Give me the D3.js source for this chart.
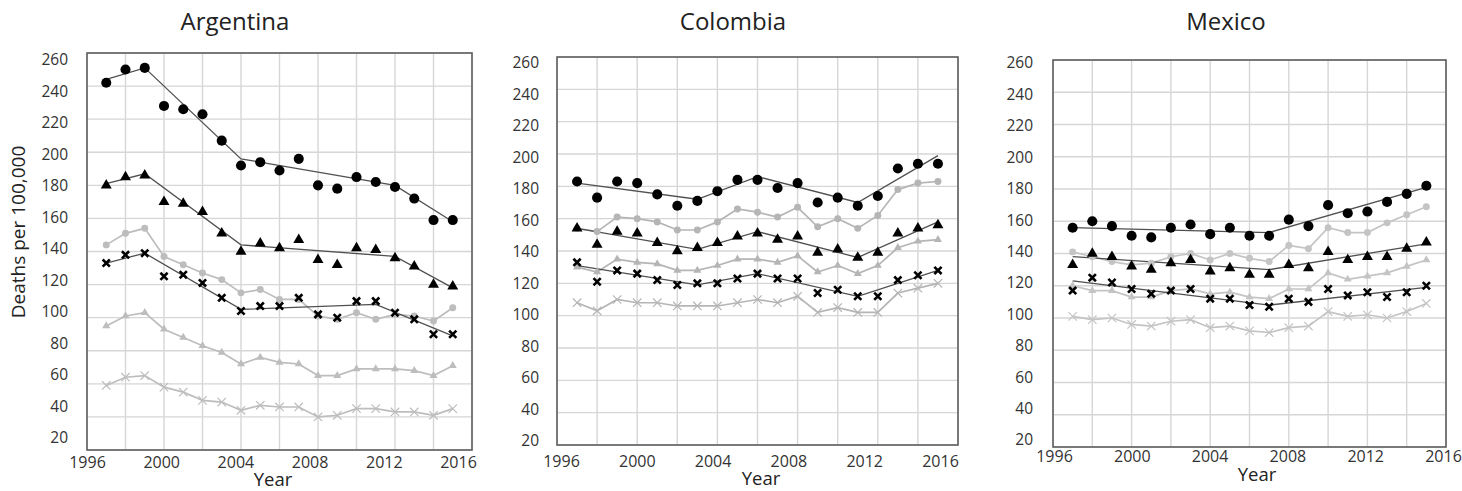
<!DOCTYPE html>
<html>
<head>
<meta charset="utf-8">
<script src="https://cdn.jsdelivr.net/npm/d3@7"></script>
<style>
  body { margin: 0; background: #fff; }
  text { font-family: "Open Sans", sans-serif; }
</style>
</head>
<body>
<svg width="1462" height="491"></svg>
<script>
// years shared by all three panels
const years = [1997, 1998, 1999, 2000, 2001, 2002, 2003, 2004, 2005, 2006,
  2007, 2008, 2009, 2010, 2011, 2012, 2013, 2014, 2015];

const yTicks = [20, 40, 60, 80, 100, 120, 140, 160, 180, 200, 220, 240, 260];
const xTicks = [1996, 2000, 2004, 2008, 2012, 2016];
const xGrid = [1996, 1998, 2000, 2002, 2004, 2006, 2008, 2010, 2012, 2014, 2016];

// Argentina
const argBlackCircle = [242, 250, 251, 228, 226, 223, 207, 192, 194, 189, 196, 180, 178, 185, 182, 179, 172, 159, 159];
const argGrayCircle = [144, 151, 154, 137, 132, 127, 123, 115, 117, 111, 111, 101, 99, 103, 99, 102, 101, 98, 106];
const argBlackTri = [180, 185, 186, 170, 169, 164, 151, 140, 145, 142, 147, 135, 132, 142, 141, 136, 131, 120, 119];
const argGrayTri = [95, 101, 103, 93, 88, 83, 79, 72, 76, 73, 72, 65, 65, 69, 69, 69, 68, 65, 71];
const argBlackX = [133, 138, 139, 125, 126, 121, 112, 104, 107, 107, 112, 102, 100, 110, 110, 103, 99, 90, 90];
const argGrayX = [59, 64, 65, 58, 55, 50, 49, 44, 47, 46, 46, 40, 41, 45, 45, 43, 43, 41, 45];
const argTrendCircleYears = [1997, 1999, 2004, 2012, 2015];
const argTrendCircle = [244, 251, 196, 180, 158];
const argTrendTriYears = [1997, 1999, 2004, 2012, 2015];
const argTrendTri = [181, 187, 144, 137, 118];
const argTrendXYears = [1997, 1999, 2004, 2011, 2015];
const argTrendX = [133, 139, 105, 108, 89];

// Colombia
const colBlackCircle = [183, 173, 183, 182, 175, 168, 171, 177, 184, 184, 179, 182, 170, 173, 168, 174, 191, 194, 194];
const colGrayCircle = [154, 152, 161, 160, 158, 153, 153, 158, 166, 164, 161, 167, 155, 160, 154, 162, 178, 182, 183];
const colBlackTri = [154, 144, 152, 151, 145, 140, 142, 145, 149, 151, 147, 149, 139, 141, 136, 139, 151, 154, 156];
const colGrayTri = [130, 127, 135, 133, 132, 128, 128, 131, 135, 135, 133, 137, 127, 131, 126, 131, 142, 146, 147];
const colBlackX = [133, 121, 128, 126, 122, 119, 120, 120, 123, 126, 123, 123, 114, 116, 112, 112, 122, 125, 128];
const colGrayX = [108, 103, 110, 108, 108, 106, 106, 106, 108, 110, 108, 112, 102, 105, 102, 102, 114, 117, 120];
const colTrendYears = [1997, 2003, 2006, 2011, 2015];
const colTrendCircle = [182, 172, 186, 170, 199];
const colTrendTri = [154, 141, 152, 136, 158];
const colTrendX = [131, 119, 126, 112, 128];

// Mexico
const mexBlackCircle = [156, 160, 157, 151, 150, 156, 158, 152, 156, 151, 151, 161, 157, 170, 165, 166, 172, 177, 182];
const mexGrayCircle = [141, 138, 135, 133, 134, 138, 140, 136, 140, 137, 135, 145, 143, 156, 153, 153, 159, 164, 169];
const mexBlackTri = [133, 140, 138, 132, 130, 134, 136, 129, 131, 127, 127, 133, 131, 141, 136, 138, 138, 143, 147];
const mexGrayTri = [120, 117, 117, 113, 113, 117, 118, 115, 116, 113, 112, 118, 118, 128, 124, 126, 128, 132, 136];
const mexBlackX = [117, 125, 122, 118, 115, 117, 118, 112, 112, 108, 107, 112, 110, 118, 114, 116, 113, 116, 120];
const mexGrayX = [101, 99, 100, 96, 95, 98, 99, 94, 95, 92, 91, 94, 95, 104, 101, 102, 100, 104, 109];
const mexTrendYears = [1997, 2007, 2015];
const mexTrendCircle = [156, 153, 181];
const mexTrendTri = [138, 130, 146];
const mexTrendX = [123, 108, 119];

const countries = [
  { name: "Argentina",
    series: [argGrayX, argGrayTri, argGrayCircle, argBlackX, argBlackTri, argBlackCircle],
    trends: [[argTrendCircleYears, argTrendCircle], [argTrendTriYears, argTrendTri], [argTrendXYears, argTrendX]],
    frame: { l: 87, r: 472, t: 53, b: 450 },
    yLab: { x: 68, b: 438, t: 60 },
    xLab: { l: 87, r: 458, y: 473 },
    titleX: 235, yearX: 273, yearY: 486, gray: "#bdbdbd" },
  { name: "Colombia",
    series: [colGrayX, colGrayTri, colGrayCircle, colBlackX, colBlackTri, colBlackCircle],
    trends: [[colTrendYears, colTrendCircle], [colTrendYears, colTrendTri], [colTrendYears, colTrendX]],
    frame: { l: 557, r: 958, t: 57, b: 445 },
    yLab: { x: 539, b: 441, t: 63 },
    xLab: { l: 561, r: 940, y: 472 },
    titleX: 733, yearX: 761, yearY: 485, gray: "#b5b5b5" },
  { name: "Mexico",
    series: [mexGrayX, mexGrayTri, mexGrayCircle, mexBlackX, mexBlackTri, mexBlackCircle],
    trends: [[mexTrendYears, mexTrendCircle], [mexTrendYears, mexTrendTri], [mexTrendYears, mexTrendX]],
    frame: { l: 1053, r: 1446, t: 60, b: 447 },
    yLab: { x: 1033, b: 440, t: 63 },
    xLab: { l: 1054, r: 1443, y: 467 },
    titleX: 1226, yearX: 1257, yearY: 481, gray: "#c4c4c4" }
];

// marker style for each series, in the same order as "series"
const markers = ["grayX", "grayTri", "grayCircle", "blackX", "blackTri", "blackCircle"];

const svg = d3.select("svg");

const xPath = s => `M${-s},${-s}L${s},${s}M${-s},${s}L${s},${-s}`;

function drawMarker(g, type, color) {
  if (type === "blackCircle") {
    g.append("path").attr("d", d3.symbol(d3.symbolCircle, 80)()).attr("fill", "#000");
  } else if (type === "grayCircle") {
    g.append("path").attr("d", d3.symbol(d3.symbolCircle, 38)()).attr("fill", color);
  } else if (type === "blackTri") {
    g.append("path").attr("d", d3.symbol(d3.symbolTriangle, 52)()).attr("fill", "#000");
  } else if (type === "grayTri") {
    g.append("path").attr("d", d3.symbol(d3.symbolTriangle, 28)()).attr("fill", color);
  } else if (type === "blackX") {
    g.append("path").attr("d", xPath(3.6)).attr("stroke", "#000").attr("stroke-width", 2.6).attr("fill", "none");
  } else {
    g.append("path").attr("d", xPath(4.2)).attr("stroke", color).attr("stroke-width", 1.2).attr("fill", "none");
  }
}

countries.forEach(c => {
  const f = c.frame;
  const x = d3.scaleLinear().domain([1996, 2016]).range([f.l, f.r]);
  const y = d3.scaleLinear().domain([20, 260]).range([f.b, f.t]);
  // the printed tick labels sit a little off the grid in the original
  const xl = d3.scaleLinear().domain([1996, 2016]).range([c.xLab.l, c.xLab.r]);
  const yl = d3.scaleLinear().domain([20, 260]).range([c.yLab.b, c.yLab.t]);

  const g = svg.append("g");

  // grid
  g.selectAll(".hg").data(yTicks).enter().append("line")
    .attr("x1", f.l).attr("x2", f.r)
    .attr("y1", d => y(d)).attr("y2", d => y(d))
    .attr("stroke", "#d6d6d6").attr("stroke-width", 1.4);
  g.selectAll(".vg").data(xGrid).enter().append("line")
    .attr("y1", f.t).attr("y2", f.b)
    .attr("x1", d => x(d)).attr("x2", d => x(d))
    .attr("stroke", "#d6d6d6").attr("stroke-width", 1.4);

  g.append("rect")
    .attr("x", f.l).attr("y", f.t)
    .attr("width", f.r - f.l).attr("height", f.b - f.t)
    .attr("fill", "none").attr("stroke", "#5f5f5f").attr("stroke-width", 1.6);

  // y axis labels
  const yAxis = d3.axisLeft(yl).tickValues(yTicks).tickSize(0).tickPadding(0);
  const ya = g.append("g").attr("transform", `translate(${c.yLab.x},0)`).call(yAxis);
  ya.select(".domain").remove();
  ya.selectAll("text").attr("font-size", 15.5).attr("fill", "#333")
    .style("font-family", '"Open Sans", sans-serif');

  // x axis labels
  const xAxis = d3.axisBottom(xl).tickValues(xTicks).tickFormat(d3.format("d")).tickSize(0).tickPadding(0);
  const xa = g.append("g").attr("transform", `translate(0,${c.xLab.y - 16})`).call(xAxis);
  xa.select(".domain").remove();
  xa.selectAll("text").attr("font-size", 16).attr("fill", "#333")
    .style("font-family", '"Open Sans", sans-serif');

  // gray connected lines
  const line = d3.line().x((d, i) => x(years[i])).y(d => y(d));
  [0, 1, 2].forEach(k => {
    g.append("path").datum(c.series[k]).attr("d", line)
      .attr("fill", "none").attr("stroke", c.gray).attr("stroke-width", 1.7);
  });

  // joinpoint trend lines
  c.trends.forEach(([ty, tv]) => {
    const tl = d3.line().x((d, i) => x(ty[i])).y(d => y(d));
    g.append("path").datum(tv).attr("d", tl)
      .attr("fill", "none").attr("stroke", "#505050").attr("stroke-width", 1.3);
  });

  // markers
  c.series.forEach((s, k) => {
    s.forEach((v, i) => {
      const m = g.append("g").attr("transform", `translate(${x(years[i])},${y(v)})`);
      drawMarker(m, markers[k], c.gray);
    });
  });

  // titles
  g.append("text").attr("x", c.titleX).attr("y", 30)
    .attr("text-anchor", "middle").attr("font-size", 24).attr("fill", "#222")
    .text(c.name);
  g.append("text").attr("x", c.yearX).attr("y", c.yearY)
    .attr("text-anchor", "middle").attr("font-size", 18.5).attr("fill", "#222")
    .text("Year");
});

svg.append("text")
  .attr("transform", "translate(25,232) rotate(-90)")
  .attr("text-anchor", "middle").attr("font-size", 19).attr("fill", "#222")
  .text("Deaths per 100,000");
</script>
</body>
</html>
